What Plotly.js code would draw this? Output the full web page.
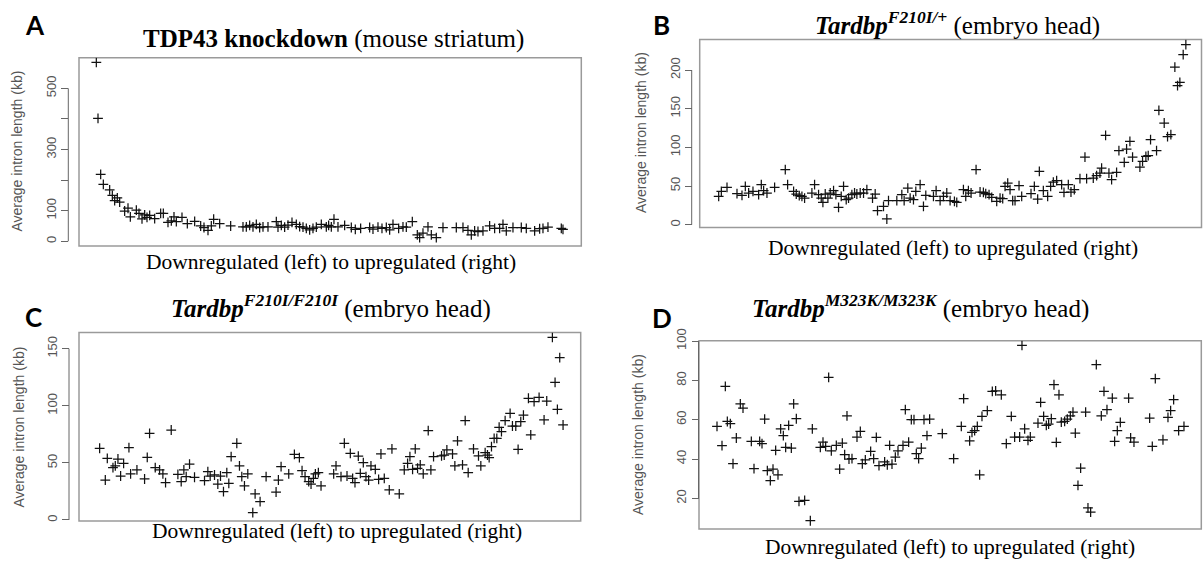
<!DOCTYPE html>
<html>
<head>
<meta charset="utf-8">
<script src="https://cdn.plot.ly/plotly-3.0.1.min.js"></script>
<style>html,body{margin:0;padding:0;background:#fff}#chart{width:1203px;height:561px}</style>
</head>
<body>
<div id="chart"></div>
<script>
// ---------- DATA (x = rank position, y = average intron length in kb) ----------
const xA = [5.5,6.0,6.8,7.6,9.5,10.3,11.0,11.8,12.5,14.0,15.0,15.7,17.5,18.3,19.2,20.0,20.7,21.5,23.0,24.8,25.6,27.0,28.0,28.8,29.5,31.2,32.8,35.0,36.8,37.8,39.0,40.0,40.7,42.5,45.8,49.5,50.5,51.5,52.5,53.5,54.5,55.5,57.0,59.5,60.0,61.0,62.0,63.0,64.2,65.5,66.5,67.5,68.5,69.5,70.5,71.5,73.0,74.5,75.2,76.0,76.8,78.0,80.0,82.0,83.2,84.8,87.5,88.5,90.0,91.2,92.5,93.5,94.5,96.2,97.5,98.5,100.3,101.8,102.5,103.5,105.0,106.0,107.5,109.5,113.5,115.5,117.0,118.0,119.0,120.0,121.5,123.5,125.0,126.5,127.5,128.5,130.5,133.0,134.5,137.0,138.5,139.5,141.0,145.0,145.5];
const yA = [585,402,219,186,168,150,133,142,128,99,108,80,102,91,73,86,78,85,74,91,91,62,67,80,64,78,58,65,50,45,36,50,72,58,50,47,47,52,47,55,45,47,47,64,46,52,46,53,62,55,48,46,42,37,42,46,55,47,52,47,72,47,52,45,39,42,45,40,46,42,45,37,55,42,47,46,64,21,12,27,47,21,12,45,45,45,36,21,34,32,34,50,42,42,55,34,45,45,42,34,41,42,46,42,39];

const xB = [6.0,6.8,8.5,11.5,13.0,14.0,15.0,16.3,18.0,18.8,19.5,20.5,22.8,26.0,26.7,28.5,29.3,30.2,31.0,31.8,34.0,34.8,36.0,36.8,37.3,38.0,38.8,39.5,40.5,41.2,42.0,42.8,43.5,44.3,45.0,46.0,46.8,47.5,48.5,49.5,50.5,52.2,53.0,53.7,55.5,56.5,57.0,59.5,61.0,61.7,62.8,63.5,64.5,65.2,66.5,67.5,68.2,70.5,71.3,72.5,73.5,74.5,75.5,76.8,77.5,79.5,80.2,81.0,81.8,83.3,84.5,85.5,86.2,87.2,88.0,89.5,90.5,91.3,92.0,92.8,93.5,94.3,95.0,96.2,97.0,99.8,100.8,101.8,102.3,103.5,104.8,105.7,106.5,107.5,109.0,109.7,111.0,111.8,112.8,114.5,116.0,116.5,118.5,119.5,120.5,121.0,122.2,123.2,124.0,125.5,126.2,127.8,128.5,129.5,130.3,132.5,133.3,134.3,135.0,135.7,137.5,138.2,139.8,140.8,141.8,143.0,143.8,144.5,145.5,146.3];
const yB = [36.7,43.1,48.3,40.1,38,49.6,41,43.1,38.8,51.8,44,41,48.3,71.2,51.8,43.1,39.7,37.5,36.7,34.5,41,51.8,38.8,34.5,29,39.7,34.5,41,44,38.8,22.5,36.7,49.6,32.4,34.5,38.8,41,39.7,41,41,45.3,34.5,39.7,18.1,23.7,7.4,31.1,31.1,38.8,31.1,47.4,34.5,32.4,43.1,51.8,23.7,38,36.7,44,31.1,36.7,41,31.1,30.2,29,45.3,36.7,44,41,71.2,42.3,41.9,40.1,38.8,35.4,30.2,34.5,33.7,49.6,53.9,45.3,31.1,31.1,50.5,36.7,40.1,49.6,33.2,69,44,36.7,49.6,55.2,56.9,51.8,41.9,51.8,42.3,45.3,59.5,87.5,59.5,60.4,63.4,66.8,73.3,115.5,66.8,58.2,67.7,95.7,80.6,97.9,107.8,87.5,74.6,81.9,88.4,89.3,110,95.7,147.9,131.5,113.8,116.4,203.9,179.8,184.1,219.9,232.8];

const xC = [6.5,8.2,8.8,10.5,11.2,12.0,12.8,13.7,15.3,15.8,17.7,20.0,20.8,21.5,23.2,24.5,25.5,26.3,28.0,30.0,31.0,31.8,32.5,33.5,35.0,38.0,39.0,39.7,41.0,42.0,42.8,43.7,44.7,45.3,46.0,47.7,48.5,49.2,50.0,51.0,52.5,53.2,54.7,56.5,59.5,60.2,61.0,63.3,65.0,66.5,67.3,68.2,69.3,70.0,70.7,71.3,72.2,73.0,76.8,77.5,79.0,80.0,80.8,81.8,82.5,83.2,84.2,84.8,85.7,86.5,87.3,88.0,89.3,90.3,91.0,92.0,93.5,94.3,96.5,98.0,99.0,99.7,100.5,101.3,102.0,102.8,103.7,105.2,106.0,106.8,109.2,110.0,110.8,112.5,113.2,114.0,115.5,116.3,117.2,118.8,120.3,121.0,122.3,123.0,123.5,124.2,125.0,125.8,126.5,127.2,128.3,129.8,130.5,131.5,132.2,133.0,133.8,135.3,136.0,137.0,138.5,140.0,140.8,142.5,143.3,144.0,144.7,145.7];
const yC = [62.8,35,54,45.8,47.3,53.4,38.5,49.6,63.4,40.3,43.8,35.9,54.9,75.9,45.8,43.8,40.3,32.7,78.8,40,33.6,43.8,37.9,49,37.4,34.5,42.3,38.5,39.4,31.5,38.5,24.8,41.5,32.1,55.5,67.2,47.3,37.9,29.8,40.3,6.4,22.8,16.1,37.9,24.5,35,46.7,40.3,57.5,54.6,43.2,37.9,33.6,31.5,36.5,40.3,41.5,29.8,40.3,47.3,37.9,67.2,38.5,58.4,36.5,32.7,55.9,40.9,50.2,37.9,35,47.3,44.4,35.6,57.8,36.5,26.3,62.2,22.8,43.8,49.6,55.5,44.4,62.2,45.3,48.2,40.3,78.3,43.8,55.5,56.1,56.9,61.3,57.8,47.3,69.2,48.2,87,41.5,62.2,56.1,47.3,59,56.9,54.6,64.2,71.5,71.5,81.2,77.4,87,93.4,82.3,82.3,61.9,86.1,91.9,106.6,74.5,103.6,107.4,87.6,104.2,160,120.6,96.9,142.2,83.2];

const xD = [5.7,7.2,8.2,8.8,9.7,10.5,11.5,12.7,13.5,16.0,16.8,18.5,19.2,20.0,20.8,21.7,22.5,23.3,24.0,24.8,25.6,26.3,27.2,28.0,28.7,29.5,30.3,32.0,33.7,34.3,36.7,37.5,38.3,39.2,40.0,41.5,42.5,43.3,44.0,44.7,45.3,46.2,47.7,48.7,49.3,50.2,51.8,52.7,53.5,54.3,56.0,56.8,57.5,58.2,59.2,60.0,61.5,62.2,63.2,64.0,64.8,65.5,66.2,67.0,67.8,68.7,69.5,73.3,76.7,79.0,79.7,81.5,82.2,83.0,83.8,84.5,85.2,86.8,88.3,89.3,91.0,92.5,94.0,95.0,96.5,97.2,98.0,99.0,99.7,102.0,102.8,103.7,104.5,105.2,106.0,106.8,107.5,108.3,109.0,110.0,110.8,111.7,112.5,113.2,114.0,114.8,116.3,117.0,117.8,119.5,121.0,121.8,122.7,124.3,125.0,125.8,126.7,129.2,129.8,130.8,135.5,136.3,137.2,139.5,141.0,141.8,142.7,144.2,145.8];
const yD = [56.6,46.8,77,59.1,58,37.6,50.7,68.1,65.9,49,35.1,49,47.8,60.3,34.1,29,34.9,44.4,32,55.3,51.9,45.9,57.1,45.6,68.1,60.5,18.5,19,8.6,55.3,45.9,48.6,46.4,81.5,44.2,46.9,34.9,48.1,42.2,62,40,40.2,51.2,54.1,37.6,39.6,43.9,40.2,51,36.6,38.5,37.1,46.9,37.4,41,44.2,46.9,65.1,48.6,60,60,42.7,40.2,45.6,60,51.9,60.3,52.9,40.2,56.6,70.7,49.3,53.6,54.4,56.6,32,61.7,64.6,74.4,74.7,72.7,47.8,61.7,51.2,51.2,97.8,55.4,49.5,51.2,58.3,68.8,61.7,57.1,57.8,60.5,77.8,48.5,72.7,58.8,59.2,60.3,62,63.9,53.2,26.6,35.4,63.9,15.1,13,88,62,74.4,65.1,71,49,54.4,58.6,71,50.7,48.6,60.8,46.4,80.9,49.8,61.2,64.6,70.2,54.4,56.6];

// tick values (labelled) and unlabelled ticks
const ticksA = [0,100,300,500];
const minorA = [200,400];
const ticksB = [0,50,100,150,200];
const ticksC = [0,50,100,150];
const ticksD = [20,40,60,80,100];

// text
const titleA = '<b>TDP43 knockdown</b> (mouse striatum)';
const titleB = '<b><i>Tardbp</i></b><sup><b><i>F210I/+</i></b></sup> (embryo head)';
const titleC = '<b><i>Tardbp</i></b><sup><b><i>F210I/F210I</i></b></sup> (embryo head)';
const titleD = '<b><i>Tardbp</i></b><sup><b><i>M323K/M323K</i></b></sup> (embryo head)';
const xLabel = 'Downregulated (left) to upregulated (right)';
const yLabel = 'Average intron length (kb)';
const letters = ['A','B','C','D'];

// ---------- LAYOUT ----------
const W = 1203, H = 561;
const px = v => v / W;
const py = v => 1 - v / H;

const panels = [
  {x:xA, y:yA, ticks:ticksA, minor:minorA, title:titleA, letter:letters[0],
   box:[79,581.3,57.7,246], yr:[-15.4,600], axisX:68.3,
   titleXY:[333,39], letterXY:[35,25], xlabXY:[331,262], ylabXY:[16.5,151]},
  {x:xB, y:yB, ticks:ticksB, minor:[], title:titleB, letter:letters[1],
   box:[699.7,1201.5,39.5,227.5], yr:[-3.6,239.5], axisX:691.7,
   titleXY:[957,23], letterXY:[661,25], xlabXY:[953,248], ylabXY:[641,133]},
  {x:xC, y:yC, ticks:ticksC, minor:[], title:titleC, letter:letters[2],
   box:[79,580.7,332.5,521], yr:[-0.9,164.2], axisX:69,
   titleXY:[331,306], letterXY:[33,317], xlabXY:[337,531], ylabXY:[18,427.5]},
  {x:xD, y:yD, ticks:ticksD, minor:[], title:titleD, letter:letters[3],
   box:[699,1201.3,340.7,529], yr:[4.4,100.2], axisX:698.5,
   titleXY:[920,306], letterXY:[662,318], xlabXY:[950,547], ylabXY:[638,435]}
];

const traces = [];
const layout = {
  width: W, height: H,
  margin: {l:0, r:0, t:0, b:0},
  paper_bgcolor: '#fff', plot_bgcolor: '#fff',
  showlegend: false,
  shapes: [], annotations: []
};

panels.forEach((p, i) => {
  const n = i === 0 ? '' : String(i + 1);
  const xa = 'x' + n, ya = 'y' + n;
  traces.push({
    type: 'scatter', mode: 'markers', x: p.x, y: p.y,
    xaxis: xa, yaxis: ya, hoverinfo: 'x+y',
    marker: {symbol: 'cross-thin', size: 7, color: '#111', line: {width: 1.25, color: '#111'}}
  });
  layout['xaxis' + n] = {
    domain: [px(p.box[0]), px(p.box[1])], anchor: ya,
    range: [0.3, 151], showticklabels: false, ticks: '', showgrid: false,
    zeroline: false, showline: false, fixedrange: true
  };
  const yax = {
    domain: [py(p.box[3]), py(p.box[2])], anchor: 'free', position: px(p.axisX),
    range: p.yr, tickmode: 'array', tickvals: p.ticks, ticktext: p.ticks.map(String),
    ticks: 'outside', ticklen: 7, tickwidth: 1, tickcolor: '#666',
    tickangle: -90, tickfont: {family: 'Liberation Sans, Arial, sans-serif', size: 13, color: '#555'},
    showgrid: false, zeroline: false, showline: false, fixedrange: true
  };
  if (p.minor.length) {
    yax.minor = {tickmode: 'array', tickvals: p.minor, ticks: 'outside', ticklen: 7,
                 tickwidth: 1, tickcolor: '#666', showgrid: false};
  }
  layout['yaxis' + n] = yax;
  const allTicks = p.ticks.concat(p.minor);
  // plot box
  layout.shapes.push({type: 'rect', xref: xa + ' domain', yref: ya + ' domain',
    x0: 0, x1: 1, y0: 0, y1: 1, line: {color: '#9a9a9a', width: 1.5}, layer: 'below'});
  // R-style axis segment from first to last tick
  layout.shapes.push({type: 'line', xref: 'paper', yref: ya,
    x0: px(p.axisX), x1: px(p.axisX), y0: Math.min(...allTicks), y1: Math.max(...allTicks),
    line: {color: '#666', width: 1}});
  // title
  layout.annotations.push({text: p.title, xref: 'paper', yref: 'paper',
    x: px(p.titleXY[0]), y: py(p.titleXY[1]), xanchor: 'center', yanchor: 'middle',
    showarrow: false, font: {family: 'Liberation Serif, Times New Roman, serif', size: 25, color: '#000'}});
  // panel letter
  layout.annotations.push({text: '<b>' + p.letter + '</b>', xref: 'paper', yref: 'paper',
    x: px(p.letterXY[0]), y: py(p.letterXY[1]), xanchor: 'center', yanchor: 'middle',
    showarrow: false, font: {family: 'Lato, Open Sans, sans-serif', size: 26, color: '#000'}});
  // x label
  layout.annotations.push({text: xLabel, xref: 'paper', yref: 'paper',
    x: px(p.xlabXY[0]), y: py(p.xlabXY[1]), xanchor: 'center', yanchor: 'middle',
    showarrow: false, font: {family: 'Liberation Serif, Times New Roman, serif', size: 21.5, color: '#000'}});
  // y label
  layout.annotations.push({text: yLabel, xref: 'paper', yref: 'paper',
    x: px(p.ylabXY[0]), y: py(p.ylabXY[1]), xanchor: 'center', yanchor: 'middle',
    textangle: -90, showarrow: false,
    font: {family: 'Liberation Sans, Arial, sans-serif', size: 14, color: '#555'}});
});

Plotly.newPlot('chart', traces, layout, {displayModeBar: false, staticPlot: true});
</script>
</body>
</html>
